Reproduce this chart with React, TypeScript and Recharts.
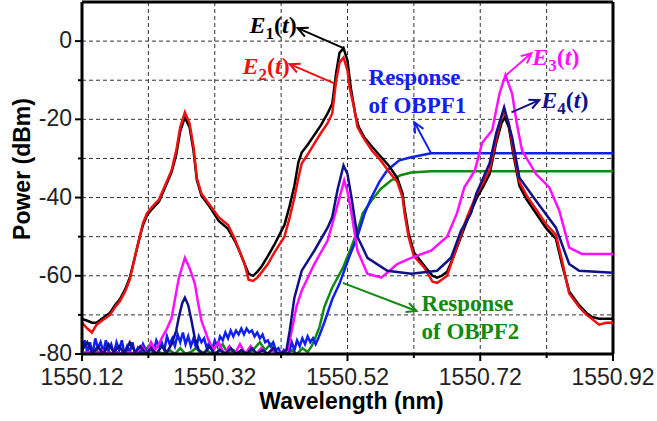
import { LineChart, Line, XAxis, YAxis, CartesianGrid, ReferenceLine } from 'recharts';

const xTicks = [1550.12, 1550.22, 1550.32, 1550.42, 1550.52, 1550.62, 1550.72, 1550.82, 1550.92];
const xLabelled = [1550.12, 1550.32, 1550.52, 1550.72, 1550.92];
const yTicks = [-80, -70, -60, -50, -40, -30, -20, -10, 0, 10];
const yLabelled = [-80, -60, -40, -20, 0];

// [wavelength nm, power dBm]
const e1: [number, number][] = [
  [1550.12, -71], [1550.128, -71.5], [1550.135, -72], [1550.142, -72], [1550.15, -71], [1550.162, -69.5],
  [1550.17, -67.5], [1550.177, -66], [1550.185, -63.5], [1550.192, -60.5], [1550.2, -55], [1550.207, -50],
  [1550.212, -47], [1550.218, -44.5], [1550.225, -43], [1550.236, -41], [1550.245, -37.5], [1550.255, -33.5],
  [1550.262, -29], [1550.268, -23], [1550.275, -19.5], [1550.282, -22], [1550.288, -28], [1550.293, -35.5],
  [1550.3, -39.5], [1550.311, -42], [1550.326, -46], [1550.34, -48], [1550.35, -51], [1550.358, -54],
  [1550.365, -57], [1550.371, -59.5], [1550.378, -60], [1550.384, -59], [1550.391, -57.5], [1550.4, -55],
  [1550.41, -52], [1550.425, -47], [1550.433, -42], [1550.44, -37], [1550.446, -31], [1550.451, -28.5],
  [1550.46, -26.5], [1550.47, -24], [1550.48, -21.5], [1550.49, -18.5], [1550.497, -16], [1550.503, -8],
  [1550.508, -3], [1550.514, -1.8], [1550.52, -5], [1550.525, -12], [1550.532, -19], [1550.537, -22],
  [1550.545, -24.5], [1550.557, -27], [1550.57, -29.5], [1550.583, -32], [1550.595, -35], [1550.603, -39],
  [1550.606, -43], [1550.612, -49], [1550.62, -54], [1550.636, -57.5], [1550.648, -60], [1550.655, -60.5],
  [1550.662, -60], [1550.67, -59], [1550.68, -55], [1550.692, -49.5], [1550.7, -46], [1550.715, -40],
  [1550.725, -37], [1550.734, -34], [1550.744, -26], [1550.752, -21], [1550.757, -19.5], [1550.763, -22],
  [1550.77, -29], [1550.779, -37], [1550.79, -40.5], [1550.804, -44], [1550.82, -48], [1550.834, -50.5],
  [1550.843, -57], [1550.854, -64], [1550.869, -67.5], [1550.88, -69.5], [1550.888, -70.5], [1550.899, -71],
  [1550.91, -71], [1550.92, -71],
];

const e2: [number, number][] = [
  [1550.12, -72], [1550.128, -73.5], [1550.135, -74.5], [1550.142, -72.5], [1550.15, -71.5], [1550.162, -70],
  [1550.17, -68], [1550.177, -66.5], [1550.185, -64], [1550.192, -61], [1550.2, -55], [1550.207, -50],
  [1550.212, -46.5], [1550.218, -44], [1550.225, -42.5], [1550.236, -40.5], [1550.245, -37], [1550.255, -33],
  [1550.262, -28], [1550.268, -22], [1550.275, -18.2], [1550.282, -21], [1550.288, -27], [1550.293, -35],
  [1550.3, -39], [1550.311, -41.5], [1550.326, -45], [1550.34, -47], [1550.35, -50.5], [1550.358, -54],
  [1550.365, -57], [1550.371, -61], [1550.378, -61.3], [1550.384, -60.5], [1550.391, -59], [1550.4, -57],
  [1550.41, -54], [1550.425, -50], [1550.433, -45], [1550.44, -40], [1550.446, -35], [1550.451, -31.3],
  [1550.46, -29], [1550.47, -26.2], [1550.48, -23.5], [1550.49, -21], [1550.497, -18.5], [1550.503, -10],
  [1550.508, -5.5], [1550.514, -4.2], [1550.52, -7.5], [1550.523, -11.8], [1550.53, -17], [1550.535, -22],
  [1550.545, -25], [1550.557, -28], [1550.57, -30.5], [1550.583, -33.5], [1550.595, -36], [1550.603, -40],
  [1550.606, -44], [1550.612, -50], [1550.62, -55], [1550.636, -58], [1550.648, -61.5], [1550.655, -61.8],
  [1550.662, -61], [1550.67, -60], [1550.68, -55], [1550.692, -49], [1550.7, -45], [1550.715, -39],
  [1550.725, -36], [1550.734, -33], [1550.744, -25], [1550.752, -19.5], [1550.757, -18.2], [1550.763, -21],
  [1550.77, -28], [1550.779, -36], [1550.79, -39.5], [1550.804, -43], [1550.82, -47], [1550.834, -49.5],
  [1550.843, -56], [1550.854, -64.5], [1550.869, -68], [1550.88, -70], [1550.888, -71], [1550.899, -72.5],
  [1550.91, -72], [1550.92, -72],
];

const e3: [number, number][] = [
  [1550.12, -80], [1550.13, -79.5], [1550.14, -80], [1550.15, -79], [1550.16, -80], [1550.17, -79.5],
  [1550.18, -80], [1550.19, -79.5], [1550.2, -80], [1550.21, -78], [1550.218, -80], [1550.224, -77],
  [1550.23, -79], [1550.236, -77.5], [1550.24, -76], [1550.248, -73.5], [1550.255, -70.8], [1550.26, -66],
  [1550.266, -60.5], [1550.275, -55.4], [1550.282, -58], [1550.29, -62], [1550.295, -67], [1550.3, -71.5],
  [1550.311, -76.7], [1550.318, -79], [1550.326, -77], [1550.334, -80], [1550.342, -78], [1550.35, -80],
  [1550.358, -77.5], [1550.366, -80], [1550.374, -78], [1550.382, -80], [1550.39, -78.5], [1550.398, -80],
  [1550.406, -79], [1550.414, -80], [1550.422, -79.5], [1550.43, -79], [1550.436, -74], [1550.443, -68],
  [1550.451, -63.8], [1550.47, -57], [1550.49, -51], [1550.5, -45], [1550.508, -40], [1550.515, -35.6],
  [1550.52, -38.5], [1550.526, -44], [1550.535, -53.6], [1550.55, -59.5], [1550.571, -60.5], [1550.595, -57],
  [1550.616, -55.4], [1550.646, -53.6], [1550.67, -50], [1550.685, -44], [1550.696, -37.4], [1550.705, -35],
  [1550.712, -33], [1550.723, -26], [1550.738, -22.8], [1550.749, -13.4], [1550.758, -8.7], [1550.768, -13.4],
  [1550.775, -21], [1550.783, -28], [1550.804, -34], [1550.824, -37.4], [1550.839, -43.3], [1550.854, -52.8],
  [1550.873, -54.4], [1550.92, -54.4],
];

const e4: [number, number][] = [
  [1550.12, -79], [1550.128, -77], [1550.136, -80], [1550.144, -78], [1550.152, -80], [1550.16, -77.5],
  [1550.168, -79.5], [1550.176, -78], [1550.184, -80], [1550.192, -77], [1550.2, -79.5], [1550.208, -78],
  [1550.216, -80], [1550.224, -78.5], [1550.232, -80], [1550.24, -78], [1550.248, -79.5], [1550.255, -77.5],
  [1550.262, -74], [1550.266, -70.5], [1550.271, -67], [1550.275, -65.6], [1550.28, -67.5], [1550.285, -71.5],
  [1550.29, -76], [1550.296, -79], [1550.304, -80], [1550.312, -78], [1550.32, -80], [1550.328, -79],
  [1550.336, -80], [1550.344, -78.5], [1550.352, -80], [1550.36, -79], [1550.368, -80], [1550.376, -78.5],
  [1550.384, -80], [1550.392, -79], [1550.4, -80], [1550.408, -78.5], [1550.416, -80], [1550.424, -79.5],
  [1550.428, -79], [1550.433, -74], [1550.44, -65.6], [1550.451, -58.7], [1550.47, -53.6], [1550.49, -47.7],
  [1550.497, -45], [1550.505, -38], [1550.514, -31.8], [1550.52, -34], [1550.526, -40], [1550.535, -50],
  [1550.55, -55.4], [1550.58, -58.7], [1550.616, -59.5], [1550.655, -58.7], [1550.676, -55.4], [1550.691, -48.5],
  [1550.706, -44], [1550.714, -39], [1550.734, -31.3], [1550.744, -23.6], [1550.756, -16.9], [1550.768, -24.6],
  [1550.779, -34.9], [1550.804, -40.8], [1550.834, -47.7], [1550.854, -57], [1550.869, -58.7], [1550.92, -59.2],
];

const obpf1: [number, number][] = [
  [1550.12, -80], [1550.124, -76.5], [1550.128, -79.5], [1550.132, -77], [1550.136, -80], [1550.14, -76],
  [1550.144, -78.5], [1550.148, -77], [1550.152, -79.5], [1550.156, -76.5], [1550.16, -79], [1550.164, -77.5],
  [1550.168, -80], [1550.172, -77], [1550.176, -79], [1550.18, -76.5], [1550.184, -80], [1550.188, -78],
  [1550.192, -79.5], [1550.196, -77], [1550.2, -80], [1550.204, -78.5], [1550.208, -80], [1550.212, -77.5],
  [1550.216, -79], [1550.22, -80], [1550.224, -77], [1550.228, -79.5], [1550.232, -76.5], [1550.236, -78],
  [1550.24, -77], [1550.244, -79], [1550.248, -75.5], [1550.252, -77.5], [1550.256, -76], [1550.26, -78],
  [1550.264, -75], [1550.268, -77], [1550.272, -74.5], [1550.276, -77.5], [1550.28, -75.5], [1550.284, -78],
  [1550.288, -76], [1550.292, -78.5], [1550.296, -75.5], [1550.3, -77], [1550.304, -76], [1550.308, -78.5],
  [1550.312, -77], [1550.316, -79], [1550.32, -76.5], [1550.324, -78], [1550.328, -75.5], [1550.332, -76.5],
  [1550.336, -74.5], [1550.34, -76], [1550.344, -74], [1550.348, -75.5], [1550.352, -74], [1550.356, -75],
  [1550.36, -73.5], [1550.364, -75], [1550.368, -73.5], [1550.372, -74.5], [1550.376, -74], [1550.38, -75.5],
  [1550.384, -74.5], [1550.388, -76], [1550.392, -75], [1550.396, -77], [1550.4, -76.5], [1550.404, -78],
  [1550.408, -77], [1550.412, -79], [1550.416, -78.5], [1550.42, -80], [1550.424, -79], [1550.428, -80],
  [1550.432, -79.5], [1550.436, -77], [1550.44, -79], [1550.444, -76.5], [1550.448, -78], [1550.452, -76],
  [1550.456, -77.5], [1550.46, -75.5], [1550.464, -77], [1550.468, -76], [1550.472, -77.5], [1550.476, -76],
  [1550.485, -72], [1550.497, -66], [1550.508, -62], [1550.523, -55], [1550.535, -50], [1550.546, -44],
  [1550.556, -40], [1550.568, -36], [1550.58, -33], [1550.598, -30.5], [1550.616, -29.7], [1550.646, -28.7],
  [1550.92, -28.7],
];

const obpf2: [number, number][] = [
  [1550.12, -80], [1550.126, -79.5], [1550.132, -80], [1550.14, -79], [1550.148, -80], [1550.156, -78.5],
  [1550.164, -80], [1550.172, -79.5], [1550.18, -80], [1550.188, -79], [1550.196, -80], [1550.204, -79.5],
  [1550.212, -80], [1550.22, -78], [1550.228, -80], [1550.236, -79.5], [1550.244, -80], [1550.252, -79],
  [1550.26, -80], [1550.268, -78.5], [1550.276, -80], [1550.284, -79.5], [1550.292, -78.5], [1550.3, -80],
  [1550.308, -79], [1550.316, -80], [1550.324, -79.5], [1550.332, -77.5], [1550.34, -80], [1550.348, -79],
  [1550.356, -80], [1550.364, -79.5], [1550.372, -80], [1550.38, -78.5], [1550.388, -77], [1550.396, -79],
  [1550.404, -77.5], [1550.412, -80], [1550.42, -79.5], [1550.428, -80], [1550.436, -79], [1550.444, -80],
  [1550.452, -78.5], [1550.46, -79.5], [1550.466, -78], [1550.47, -76.5], [1550.478, -73], [1550.485, -68],
  [1550.497, -63], [1550.505, -60.5], [1550.513, -58], [1550.525, -53], [1550.535, -48.5], [1550.543, -44],
  [1550.556, -40.8], [1550.57, -37.8], [1550.586, -35.6], [1550.6, -34.3], [1550.616, -33.6], [1550.646, -33.3],
  [1550.92, -33.3],
];

const toRows = (pairs: [number, number][]) => pairs.map(([wl, p]) => ({ wl, p }));

const SANS = 'Liberation Sans, Arial, sans-serif';
const SERIF = 'Liberation Serif, Times New Roman, serif';

function XTick({ x, y, payload }: any) {
  const major = xLabelled.includes(payload.value);
  return (
    <g>
      <line x1={x} x2={x} y1={y} y2={y + (major ? 7 : 4)} stroke="#000" strokeWidth={2} />
      {major && (
        <text x={x} y={y + 31} textAnchor="middle" fontFamily={SANS} fontSize={23} fill="#222">
          {payload.value.toFixed(2)}
        </text>
      )}
    </g>
  );
}

function YTick({ x, y, payload }: any) {
  const major = yLabelled.includes(payload.value);
  if (payload.value === 10) return <g />;
  return (
    <g>
      <line x1={x} x2={x - (major ? 7 : 4)} y1={y} y2={y} stroke="#000" strokeWidth={2} />
      {major && (
        <text x={x - 10} y={y + 7} textAnchor="end" fontFamily={SANS} fontSize={23} fill="#222">
          {payload.value}
        </text>
      )}
    </g>
  );
}

function eLabel(sub: string) {
  return [
    <tspan key="e" fontStyle="italic">E</tspan>,
    <tspan key="s" fontSize={17} dy={6}>{sub}</tspan>,
    <tspan key="o" dy={-6}>(</tspan>,
    <tspan key="t" fontStyle="italic">t</tspan>,
    <tspan key="c">)</tspan>,
  ];
}

interface Note {
  from: [number, number];
  to: [number, number];
  color: string;
  lines: any[];
  dx: number;
  dy: number[];
  anchor: 'start' | 'end';
  size: number;
}

const notes: Note[] = [
  { from: [1550.514, -1.8], to: [1550.445, 3.3], color: '#000', lines: [eLabel('1')], dx: -1, dy: [5], anchor: 'end', size: 24 },
  { from: [1550.5, -10.8], to: [1550.433, -5.9], color: '#f01010', lines: [eLabel('2')], dx: 0, dy: [10], anchor: 'end', size: 24 },
  { from: [1550.759, -8.7], to: [1550.797, -3.1], color: '#ff10ff', lines: [eLabel('3')], dx: 1, dy: [12], anchor: 'start', size: 24 },
  { from: [1550.767, -18.2], to: [1550.809, -15.1], color: '#10108a', lines: [eLabel('4')], dx: 2, dy: [8], anchor: 'start', size: 24 },
  { from: [1550.646, -28.7], to: [1550.621, -20.8], color: '#1020f0', lines: ['Response', 'of OBPF1'], dx: -46, dy: [-37, -9], anchor: 'start', size: 23 },
  { from: [1550.513, -61.8], to: [1550.624, -69], color: '#108a10', lines: ['Response', 'of OBPF2'], dx: 5, dy: [0, 28], anchor: 'start', size: 23 },
];

function noteShape(n: Note) {
  return (p: any) => {
    const { x1, y1, x2, y2 } = p;
    const ang = Math.atan2(y1 - y2, x1 - x2);
    const L = 11;
    const a1 = ang + 0.45;
    const a2 = ang - 0.45;
    return (
      <g>
        <line x1={x1} y1={y1} x2={x2} y2={y2} stroke={n.color} strokeWidth={2} />
        <polyline
          points={`${x2 + L * Math.cos(a1)},${y2 + L * Math.sin(a1)} ${x2},${y2} ${x2 + L * Math.cos(a2)},${y2 + L * Math.sin(a2)}`}
          fill="none"
          stroke={n.color}
          strokeWidth={2}
        />
        {n.lines.map((t, i) => (
          <text
            key={i}
            x={x2 + n.dx}
            y={y2 + n.dy[i]}
            textAnchor={n.anchor}
            fontFamily={SERIF}
            fontWeight="bold"
            fontSize={n.size}
            fill={n.color}
          >
            {t}
          </text>
        ))}
      </g>
    );
  };
}

const series = [
  { name: 'OBPF2', data: obpf2, color: '#108a10' },
  { name: 'OBPF1', data: obpf1, color: '#1020f0' },
  { name: 'E1', data: e1, color: '#000000' },
  { name: 'E2', data: e2, color: '#f01010' },
  { name: 'E3', data: e3, color: '#ff10ff' },
  { name: 'E4', data: e4, color: '#10108a' },
];

export default function App() {
  return (
    <div style={{ position: 'absolute', left: 0, top: 0, background: '#fff' }}>
      <LineChart width={657} height={421} margin={{ top: 2, right: 44, bottom: 0, left: 0 }}>
        <CartesianGrid stroke="#333" strokeDasharray="4 3" strokeWidth={1} />
        <XAxis
          dataKey="wl"
          type="number"
          domain={[1550.12, 1550.92]}
          ticks={xTicks}
          interval={0}
          allowDataOverflow
          height={67}
          tickSize={0}
          tickMargin={0}
          tickLine={false}
          tick={<XTick />}
          axisLine={{ stroke: '#000', strokeWidth: 3 }}
          label={{
            content: ({ viewBox }: any) => (
              <text
                x={viewBox.x + viewBox.width / 2 + 4}
                y={viewBox.y + 55}
                textAnchor="middle"
                fontFamily={SANS}
                fontWeight="bold"
                fontSize={23}
                fill="#000"
              >
                Wavelength (nm)
              </text>
            ),
          }}
        />
        <YAxis
          type="number"
          domain={[-80, 10]}
          ticks={yTicks}
          interval={0}
          allowDataOverflow
          width={82}
          tickSize={0}
          tickMargin={0}
          tickLine={false}
          tick={<YTick />}
          axisLine={{ stroke: '#000', strokeWidth: 3 }}
          label={{
            content: ({ viewBox }: any) => {
              const cx = viewBox.x + 22;
              const cy = viewBox.y + viewBox.height / 2 - 9;
              return (
                <text
                  x={cx}
                  y={cy}
                  transform={`rotate(-90, ${cx}, ${cy})`}
                  textAnchor="middle"
                  dominantBaseline="central"
                  fontFamily={SANS}
                  fontWeight="bold"
                  fontSize={23}
                  fill="#000"
                >
                  Power (dBm)
                </text>
              );
            },
          }}
        />
        <ReferenceLine y={10} stroke="#000" strokeWidth={3} />
        <ReferenceLine x={1550.92} stroke="#000" strokeWidth={3} />
        {series.map((s) => (
          <Line
            key={s.name}
            data={toRows(s.data)}
            dataKey="p"
            type="linear"
            stroke={s.color}
            strokeWidth={2.5}
            dot={false}
            activeDot={false}
            isAnimationActive={false}
          />
        ))}
        {notes.map((n, i) => (
          <ReferenceLine
            key={'n' + i}
            segment={[{ x: n.from[0], y: n.from[1] }, { x: n.to[0], y: n.to[1] }]}
            ifOverflow="visible"
            shape={noteShape(n)}
          />
        ))}
      </LineChart>
    </div>
  );
}
